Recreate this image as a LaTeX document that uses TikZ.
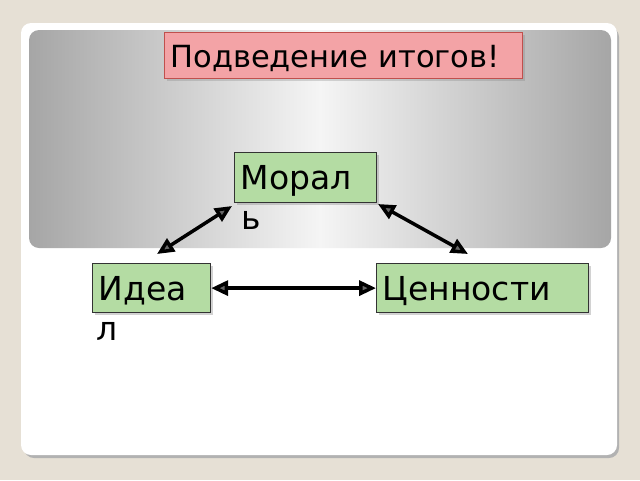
\documentclass[tikz,border=0pt]{standalone}
\usepackage{fontspec}
\newfontfamily\dv{DejaVu Sans}
\usetikzlibrary{arrows.meta,shadows}
\definecolor{bgbeige}{HTML}{E6E0D5}
\definecolor{greenfill}{HTML}{B4DCA3}
\definecolor{pinkfill}{HTML}{F3A3A6}
\definecolor{pinkline}{HTML}{C0504D}
\tikzset{
  gbox/.style={draw=black!80, line width=1.2pt, fill=greenfill, anchor=north west,
    inner xsep=6pt, inner ysep=4pt, font=\dv\fontsize{33}{38}\selectfont, align=left,
    text height=24pt, text depth=0pt,
    drop shadow={shadow xshift=2pt, shadow yshift=-2pt, opacity=0.35}},
  overflow/.style={anchor=north west, inner sep=0pt, font=\dv\fontsize{33}{38}\selectfont},
  link/.style={line width=3.5pt, black, {Triangle[length=17pt,width=15pt,fill=black!60]}-{Triangle[length=17pt,width=15pt,fill=black!60]}}
}
\begin{document}
\begin{tikzpicture}[x=1pt,y=-1pt]
\fill[bgbeige] (0,0) rectangle (640,480);
\useasboundingbox (0,0) rectangle (640,480);
% card
\fill[black!30, rounded corners=10pt] (24,27) rectangle (619,458);
\fill[white, rounded corners=10pt] (21,23) rectangle (617,455);
% gray panel
\shade[rounded corners=10pt, left color=black!35, right color=black!35, middle color=black!4] (29,30) rectangle (611,248);
% title
\node[draw=pinkline, line width=1pt, fill=pinkfill, anchor=north west, minimum width=358pt, minimum height=46pt, text width=346pt, align=left, inner xsep=6pt, inner ysep=4pt,
  text height=23pt, text depth=0pt,
  font=\dv\fontsize{30.5}{34}\selectfont, drop shadow={shadow xshift=2pt, shadow yshift=-2pt, opacity=0.3}] (title) at (164,32) {Подведение итогов!};
% boxes
\node[gbox, minimum width=142pt, minimum height=50pt, text width=130pt] (moral) at (234,152) {Морал};
\node[overflow] (moralb) at (241,211) {ь};
\node[gbox, minimum width=118pt, minimum height=49pt, text width=106pt] (ideal) at (92,263) {Идеа};
\node[overflow] (idealb) at (96,322) {л};
\node[gbox, minimum width=212pt, minimum height=49pt, text width=200pt] (cenn) at (376,263) {Ценности};
% arrows
\coordinate (a1) at (232,206);
\coordinate (a2) at (157,254);
\coordinate (b1) at (378,204);
\coordinate (b2) at (468,254);
\draw[link] (a1) -- (a2);
\draw[link] (b1) -- (b2);
\draw[link] (ideal.east) -- (cenn.west);
\end{tikzpicture}
\end{document}
